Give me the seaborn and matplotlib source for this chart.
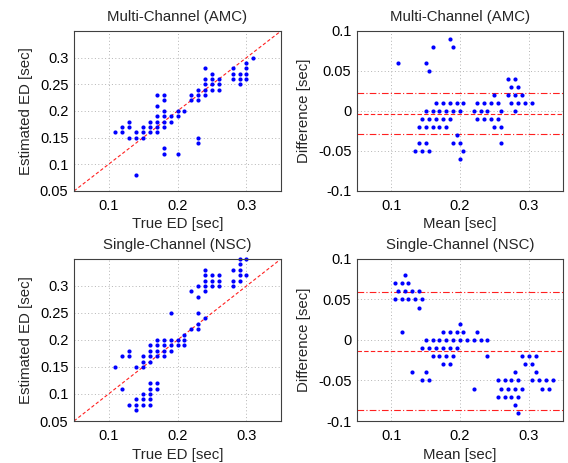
import matplotlib
matplotlib.use("Agg")
import matplotlib.pyplot as plt
import pandas as pd
import seaborn as sns
from matplotlib.ticker import FormatStrFormatter

# ---------------------------------------------------------------------------
# Event-duration estimates (seconds)
# ---------------------------------------------------------------------------
# Multi-channel (AMC): true vs. estimated
amc_true = [0.11,
            0.12, 0.12,
            0.13, 0.13, 0.13,
            0.14, 0.14, 0.14,
            0.15, 0.15, 0.15,
            0.16, 0.16, 0.16,
            0.17, 0.17, 0.17, 0.17, 0.17, 0.17,
            0.18, 0.18, 0.18, 0.18, 0.18, 0.18, 0.18, 0.18,
            0.19, 0.19,
            0.20, 0.20, 0.20,
            0.21,
            0.22, 0.22,
            0.23, 0.23, 0.23, 0.23, 0.23,
            0.24, 0.24, 0.24, 0.24, 0.24,
            0.25, 0.25, 0.25, 0.25,
            0.26, 0.26, 0.26,
            0.28, 0.28, 0.28,
            0.29, 0.29, 0.29,
            0.30, 0.30, 0.30, 0.30,
            0.31]
amc_est = [0.16,
           0.17, 0.16,
           0.18, 0.17, 0.15,
           0.16, 0.15, 0.08,
           0.17, 0.16, 0.15,
           0.18, 0.17, 0.16,
           0.23, 0.21, 0.19, 0.18, 0.17, 0.16,
           0.23, 0.22, 0.20, 0.19, 0.18, 0.17, 0.13, 0.12,
           0.19, 0.18,
           0.20, 0.19, 0.12,
           0.20,
           0.23, 0.22,
           0.24, 0.23, 0.22, 0.15, 0.14,
           0.28, 0.26, 0.25, 0.24, 0.23,
           0.27, 0.26, 0.25, 0.24,
           0.26, 0.25, 0.24,
           0.28, 0.27, 0.26,
           0.27, 0.26, 0.25,
           0.29, 0.28, 0.27, 0.26,
           0.30]

# Single-channel (NSC): true vs. estimated
nsc_true = [0.11,
            0.12, 0.12,
            0.13, 0.13, 0.13,
            0.14, 0.14, 0.14, 0.14,
            0.15, 0.15, 0.15, 0.15, 0.15, 0.15,
            0.16, 0.16, 0.16, 0.16, 0.16, 0.16, 0.16, 0.16, 0.16,
            0.17, 0.17, 0.17, 0.17, 0.17, 0.17,
            0.18, 0.18, 0.18, 0.18,
            0.19, 0.19, 0.19, 0.19,
            0.20, 0.20,
            0.21, 0.21, 0.21,
            0.22, 0.22,
            0.23, 0.23, 0.23, 0.23, 0.23,
            0.24, 0.24, 0.24, 0.24, 0.24, 0.24,
            0.25, 0.25, 0.25,
            0.26, 0.26, 0.26,
            0.28, 0.28, 0.28,
            0.29, 0.29, 0.29, 0.29, 0.29,
            0.30, 0.30]
nsc_est = [0.15,
           0.17, 0.11,
           0.18, 0.17, 0.08,
           0.15, 0.09, 0.08, 0.07,
           0.17, 0.16, 0.15, 0.10, 0.09, 0.08,
           0.19, 0.18, 0.17, 0.16, 0.12, 0.11, 0.10, 0.09, 0.08,
           0.20, 0.19, 0.18, 0.17, 0.12, 0.11,
           0.20, 0.19, 0.18, 0.17,
           0.25, 0.20, 0.19, 0.18,
           0.20, 0.19,
           0.21, 0.20, 0.19,
           0.29, 0.22,
           0.30, 0.28, 0.25, 0.23, 0.22,
           0.33, 0.32, 0.31, 0.30, 0.29, 0.24,
           0.32, 0.31, 0.30,
           0.32, 0.31, 0.30,
           0.33, 0.31, 0.30,
           0.35, 0.34, 0.33, 0.32, 0.31,
           0.35, 0.32]

# Bland-Altman (AMC): mean of the two measurements vs. their difference
amc_mean = [0.11, 0.15, 0.155, 0.16, 0.185, 0.19,
            0.165, 0.175, 0.185, 0.195, 0.205, 0.225, 0.235, 0.245, 0.255,
            0.15, 0.16, 0.17, 0.18, 0.19, 0.20, 0.22, 0.23, 0.24, 0.26,
            0.145, 0.155, 0.165, 0.175, 0.185, 0.225, 0.235, 0.245, 0.255,
            0.14, 0.15, 0.16, 0.17, 0.18, 0.25, 0.26,
            0.195,
            0.14, 0.15, 0.19, 0.20, 0.26,
            0.135, 0.145, 0.155, 0.205,
            0.20,
            0.27, 0.28,
            0.275, 0.285,
            0.25, 0.27, 0.28, 0.29,
            0.275, 0.285, 0.295, 0.305,
            0.28]
amc_diff = [0.06, 0.06, 0.05, 0.08, 0.09, 0.08,
            0.01, 0.01, 0.01, 0.01, 0.01, 0.01, 0.01, 0.01, 0.01,
            0.00, 0.00, 0.00, 0.00, 0.00, 0.00, 0.00, 0.00, 0.00, 0.00,
            -0.01, -0.01, -0.01, -0.01, -0.01, -0.01, -0.01, -0.01, -0.01,
            -0.02, -0.02, -0.02, -0.02, -0.02, -0.02, -0.02,
            -0.03,
            -0.04, -0.04, -0.04, -0.04, -0.04,
            -0.05, -0.05, -0.05, -0.05,
            -0.06,
            0.04, 0.04,
            0.03, 0.03,
            0.02, 0.02, 0.02, 0.02,
            0.01, 0.01, 0.01, 0.01,
            0.00]
amc_bias = -0.0035
amc_limits = [-0.029, 0.022]

# Bland-Altman (NSC)
nsc_mean = [0.12,
            0.105, 0.115, 0.125,
            0.11, 0.12, 0.13, 0.14,
            0.105, 0.115, 0.125, 0.135, 0.145,
            0.14, 0.115,
            0.13, 0.15, 0.145, 0.155,
            0.20,
            0.175, 0.185, 0.195, 0.205, 0.225,
            0.15, 0.16, 0.17, 0.18, 0.19, 0.20, 0.21, 0.22, 0.23, 0.24,
            0.145, 0.155, 0.165, 0.175, 0.185, 0.195,
            0.16, 0.17, 0.18, 0.19, 0.24,
            0.175, 0.185,
            0.22,
            0.29, 0.30, 0.31,
            0.295, 0.305,
            0.28, 0.31,
            0.255, 0.265, 0.275, 0.285, 0.305, 0.315, 0.325, 0.335,
            0.26, 0.27, 0.28, 0.29, 0.32, 0.33,
            0.255, 0.265, 0.275, 0.285,
            0.28, 0.285]
nsc_diff = [0.08,
            0.07, 0.07, 0.07,
            0.06, 0.06, 0.06, 0.06,
            0.05, 0.05, 0.05, 0.05, 0.05,
            0.04, 0.01,
            -0.04, -0.04, -0.05, -0.05,
            0.02,
            0.01, 0.01, 0.01, 0.01, 0.01,
            0.00, 0.00, 0.00, 0.00, 0.00, 0.00, 0.00, 0.00, 0.00, 0.00,
            -0.01, -0.01, -0.01, -0.01, -0.01, -0.01,
            -0.02, -0.02, -0.02, -0.02, -0.02,
            -0.03, -0.03,
            -0.06,
            -0.02, -0.02, -0.02,
            -0.03, -0.03,
            -0.04, -0.04,
            -0.05, -0.05, -0.05, -0.05, -0.05, -0.05, -0.05, -0.05,
            -0.06, -0.06, -0.06, -0.06, -0.06, -0.06,
            -0.07, -0.07, -0.07, -0.07,
            -0.08, -0.09]
nsc_bias = -0.014
nsc_limits = [-0.087, 0.059]

titles = ["Multi-Channel (AMC)", "Single-Channel (NSC)"]
ed_ticks = [0.05, 0.1, 0.15, 0.2, 0.25, 0.3]
diff_ticks = [-0.1, -0.05, 0, 0.05, 0.1]
x_ticks = [0.1, 0.2, 0.3]

# ---------------------------------------------------------------------------
sns.set_theme(style="white")
plt.rcParams["font.family"] = ["Liberation Sans", "DejaVu Sans"]
plt.rcParams["axes.unicode_minus"] = False

BLUE = "#0000ff"
RED = "#ff2020"
FS = 10.8

fig = plt.figure(figsize=(5.68, 4.63), dpi=100)
fig.patch.set_facecolor("white")

ax_pos = {
    (0, 0): [0.1303, 0.5875, 0.3644, 0.3456],
    (0, 1): [0.6285, 0.5875, 0.3627, 0.3456],
    (1, 0): [0.1303, 0.0907, 0.3644, 0.3500],
    (1, 1): [0.6285, 0.0907, 0.3627, 0.3500],
}


def style_axes(ax, ylim, yticks):
    ax.set_xlim(0.05, 0.35)
    ax.set_ylim(*ylim)
    ax.set_xticks(x_ticks)
    ax.set_yticks(yticks)
    ax.xaxis.set_major_formatter(FormatStrFormatter("%g"))
    ax.yaxis.set_major_formatter(FormatStrFormatter("%g"))
    ax.grid(True, color="#b4b4b4", linestyle=(0, (1, 2.5)), linewidth=0.7)
    ax.set_axisbelow(True)
    ax.tick_params(length=0, labelsize=10.5, colors="black")
    ax.tick_params(axis="x", pad=6)
    ax.tick_params(axis="y", pad=4)
    for sp in ax.spines.values():
        sp.set_color("#404040")
        sp.set_linewidth(0.8)
        sp.set_zorder(5)


def scatter_panel(ax, true, est, title):
    df = pd.DataFrame({"true": true, "est": est})
    ax.axline((0, 0), slope=1, color=RED, linestyle=(0, (3, 2)),
              linewidth=0.8, zorder=2)
    sns.scatterplot(data=df, x="true", y="est", ax=ax, color=BLUE, s=9,
                    linewidth=0, clip_on=False, zorder=3)
    style_axes(ax, (0.05, 0.35), ed_ticks)
    ax.set_xlabel("True ED [sec]", fontsize=FS, labelpad=3)
    ax.set_ylabel("Estimated ED [sec]", fontsize=FS, labelpad=5)
    ax.set_title(title, fontsize=FS, pad=7)


def ba_panel(ax, mean, diff, bias, limits, title):
    df = pd.DataFrame({"mean": mean, "diff": diff})
    for lim in limits:
        ax.axhline(lim, color=RED, linestyle=(0, (6, 2, 1, 2)),
                   linewidth=0.8, zorder=2)
    ax.axhline(bias, color=RED, linestyle=(0, (4, 2)), linewidth=0.8, zorder=2)
    sns.scatterplot(data=df, x="mean", y="diff", ax=ax, color=BLUE, s=9,
                    linewidth=0, clip_on=False, zorder=3)
    style_axes(ax, (-0.1, 0.1), diff_ticks)
    ax.set_xlabel("Mean [sec]", fontsize=FS, labelpad=3)
    ax.set_ylabel("Difference [sec]", fontsize=FS, labelpad=5)
    ax.set_title(title, fontsize=FS, pad=7)


ax00 = fig.add_axes(ax_pos[(0, 0)])
ax01 = fig.add_axes(ax_pos[(0, 1)])
ax10 = fig.add_axes(ax_pos[(1, 0)])
ax11 = fig.add_axes(ax_pos[(1, 1)])

scatter_panel(ax00, amc_true, amc_est, titles[0])
ba_panel(ax01, amc_mean, amc_diff, amc_bias, amc_limits, titles[0])
scatter_panel(ax10, nsc_true, nsc_est, titles[1])
ba_panel(ax11, nsc_mean, nsc_diff, nsc_bias, nsc_limits, titles[1])

fig.savefig("out.png", dpi=100, facecolor="white")
